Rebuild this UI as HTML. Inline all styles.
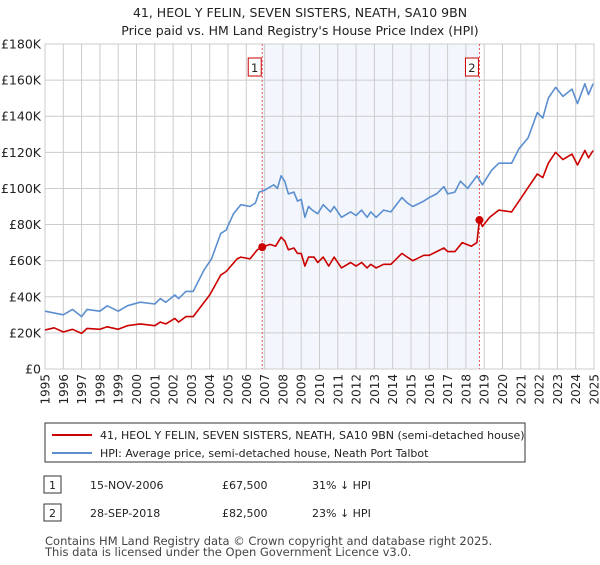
<!DOCTYPE html>
<html><head><meta charset="utf-8"><style>
body{margin:0;background:#fff;font-family:"Liberation Sans","DejaVu Sans",sans-serif;}
svg text{font-family:"DejaVu Sans","Liberation Sans",sans-serif;}
</style></head><body>
<svg id="chart" width="600" height="560" viewBox="0 0 600 560" xmlns="http://www.w3.org/2000/svg">
<text x="300" y="17" text-anchor="middle" font-size="12.5" fill="#222">41, HEOL Y FELIN, SEVEN SISTERS, NEATH, SA10 9BN</text>
<text x="300" y="35" text-anchor="middle" font-size="12.5" fill="#222">Price paid vs. HM Land Registry's House Price Index (HPI)</text>
<g id="plot"></g>
<g>
<rect x="45" y="423" width="480" height="39" fill="#fff" stroke="#333" stroke-width="1"/>
<line x1="52" y1="435" x2="92" y2="435" stroke="#cc0000" stroke-width="2"/>
<text x="100" y="439" font-size="11" fill="#222">41, HEOL Y FELIN, SEVEN SISTERS, NEATH, SA10 9BN (semi-detached house)</text>
<line x1="52" y1="453" x2="92" y2="453" stroke="#5b8fd0" stroke-width="2"/>
<text x="100" y="457" font-size="11" fill="#222">HPI: Average price, semi-detached house, Neath Port Talbot</text>
</g>
<g font-size="11" fill="#222">
<rect x="44" y="476" width="17" height="17" fill="#fff" stroke="#333"/>
<text x="52.5" y="489" text-anchor="middle">1</text>
<text x="90" y="489">15-NOV-2006</text>
<text x="222" y="489">£67,500</text>
<text x="312" y="489">31% ↓ HPI</text>
<rect x="44" y="504" width="17" height="17" fill="#fff" stroke="#333"/>
<text x="52.5" y="517" text-anchor="middle">2</text>
<text x="90" y="517">28-SEP-2018</text>
<text x="222" y="517">£82,500</text>
<text x="312" y="517">23% ↓ HPI</text>
</g>
<text x="45" y="545" font-size="11.5" fill="#444">Contains HM Land Registry data © Crown copyright and database right 2025.</text>
<text x="45" y="556" font-size="11.5" fill="#444">This data is licensed under the Open Government Licence v3.0.</text>
</svg>
<script>
const yTicks=[0,20,40,60,80,100,120,140,160,180];
const yTickLabels=["£0","£20K","£40K","£60K","£80K","£100K","£120K","£140K","£160K","£180K"];
const xYears=[1995,1996,1997,1998,1999,2000,2001,2002,2003,2004,2005,2006,2007,2008,2009,2010,2011,2012,2013,2014,2015,2016,2017,2018,2019,2020,2021,2022,2023,2024,2025];
const saleYears=[2006.87,2018.74];
const saleValues=[67.5,82.5];
const saleLabels=["1","2"];
const hpiYears=[1995,1996,1996.5,1997,1997.3,1998,1998.4,1999,1999.5,2000.2,2001,2001.3,2001.6,2002.1,2002.3,2002.7,2003.1,2003.7,2004.1,2004.6,2004.9,2005.3,2005.7,2006.2,2006.5,2006.7,2007,2007.5,2007.7,2007.9,2008.1,2008.3,2008.6,2008.8,2009,2009.2,2009.4,2009.6,2009.9,2010.2,2010.6,2010.8,2011.2,2011.7,2012,2012.3,2012.6,2012.8,2013.1,2013.5,2013.9,2014.5,2014.8,2015.1,2015.7,2016,2016.4,2016.8,2017,2017.4,2017.7,2018.1,2018.6,2018.9,2019.4,2019.8,2020.5,2020.9,2021.4,2021.9,2022.2,2022.5,2022.9,2023.3,2023.8,2024.1,2024.5,2024.7,2024.95];
const hpiValues=[32,30,33,29,33,32,35,32,35,37,36,39,37,41,39,43,43,55,61,75,77,86,91,90,92,98,99,102,100,107,104,97,98,93,94,84,90,88,86,91,87,90,84,87,85,88,84,87,84,88,87,95,92,90,93,95,97,101,97,98,104,100,107,102,110,114,114,122,128,142,139,150,156,151,155,147,158,152,158];
const propYears=[1995,1995.5,1996,1996.5,1997,1997.3,1998,1998.4,1999,1999.5,2000.2,2001,2001.3,2001.6,2002.1,2002.3,2002.7,2003.1,2004,2004.6,2004.9,2005.5,2005.7,2006.2,2006.6,2006.87,2007.3,2007.6,2007.9,2008.1,2008.3,2008.6,2008.8,2009,2009.2,2009.4,2009.7,2009.9,2010.2,2010.5,2010.8,2011.2,2011.7,2012,2012.3,2012.6,2012.8,2013.1,2013.5,2013.9,2014.5,2014.8,2015.1,2015.7,2016,2016.4,2016.8,2017,2017.4,2017.8,2018.3,2018.6,2018.74,2018.9,2019.3,2019.8,2020.5,2020.9,2021.3,2021.9,2022.2,2022.5,2022.9,2023.3,2023.8,2024.1,2024.5,2024.7,2024.95];
const propValues=[21.6,22.8,20.5,22,19.7,22.5,22,23.4,22,24,25,24,26,25,28,26,29,29,41,52,54,61,62,61,66,67.5,69,68,73,71,66,67,64,64,57,62,62,59,62,57,62,56,59,57,59,56,58,56,58,58,64,62,60,63,63,65,67,65,65,70,68,70,82.5,79,84,88,87,93,99,108,106,114,120,116,119,113,121,117,121];

const NS="http://www.w3.org/2000/svg";
const L=45,R=594,T=44,B=369;
const xS=y=>L+(y-1995)/(2025-1995)*(R-L);
const yS=v=>B-v/180*(B-T);
const plot=document.getElementById('plot');
function mk(tag,attrs,parent){const e=document.createElementNS(NS,tag);for(const k in attrs)e.setAttribute(k,attrs[k]);(parent||plot).appendChild(e);return e;}

const shade=mk('rect',{x:xS(saleYears[0]),y:T,width:xS(saleYears[1])-xS(saleYears[0]),height:B-T,fill:'#eef3fc',opacity:0.7});



yTicks.forEach((t,i)=>{
  const g=mk('line',{x1:L,x2:R,y1:yS(t),y2:yS(t),stroke:'#cccccc','stroke-width':1});
  
  
  const tx=mk('text',{x:L-4,y:yS(t)+4.5,'text-anchor':'end','font-size':12.5,fill:'#222'});
  tx.textContent=yTickLabels[i];
  
  
});
xYears.forEach(yr=>{
  const g=mk('line',{x1:xS(yr),x2:xS(yr),y1:T,y2:B,stroke:'#cccccc','stroke-width':1});
  
  
  const x=xS(yr)+4.5,y=B+5;
  const tx=mk('text',{x:x,y:y,'text-anchor':'end','font-size':12,fill:'#222',transform:'rotate(-90 '+x+' '+y+')'});
  tx.textContent=yr;
  
  
});
const frame=mk('rect',{x:L,y:T,width:R-L,height:B-T,fill:'none',stroke:'#cccccc'});



saleYears.forEach((s,i)=>{
  const d=mk('line',{x1:xS(s),x2:xS(s),y1:T,y2:B,stroke:'#ee5555','stroke-width':1,'stroke-dasharray':'2,2'});
  
  
  const bx=mk('rect',{x:xS(s)-14,y:58,width:13,height:18,fill:'#fff',stroke:'#cc0000'});
  
  
  const t=mk('text',{x:xS(s)-7.5,y:72,'text-anchor':'middle','font-size':11.5,fill:'#222'});
  t.textContent=saleLabels[i];
  
  
});

function pts(xs,vs){return xs.map((x,i)=>xS(x).toFixed(1)+','+yS(vs[i]).toFixed(1)).join(' ');}
const hpi=mk('polyline',{points:pts(hpiYears,hpiValues),fill:'none',stroke:'#5b8fd0','stroke-width':1.6,'stroke-linejoin':'round'});


const prop=mk('polyline',{points:pts(propYears,propValues),fill:'none',stroke:'#cc0000','stroke-width':1.6,'stroke-linejoin':'round'});


saleYears.forEach((s,i)=>{
  const c=mk('circle',{cx:xS(s),cy:yS(saleValues[i]),r:4,fill:'#cc0000'});
  
  
});
</script>
</body></html>
